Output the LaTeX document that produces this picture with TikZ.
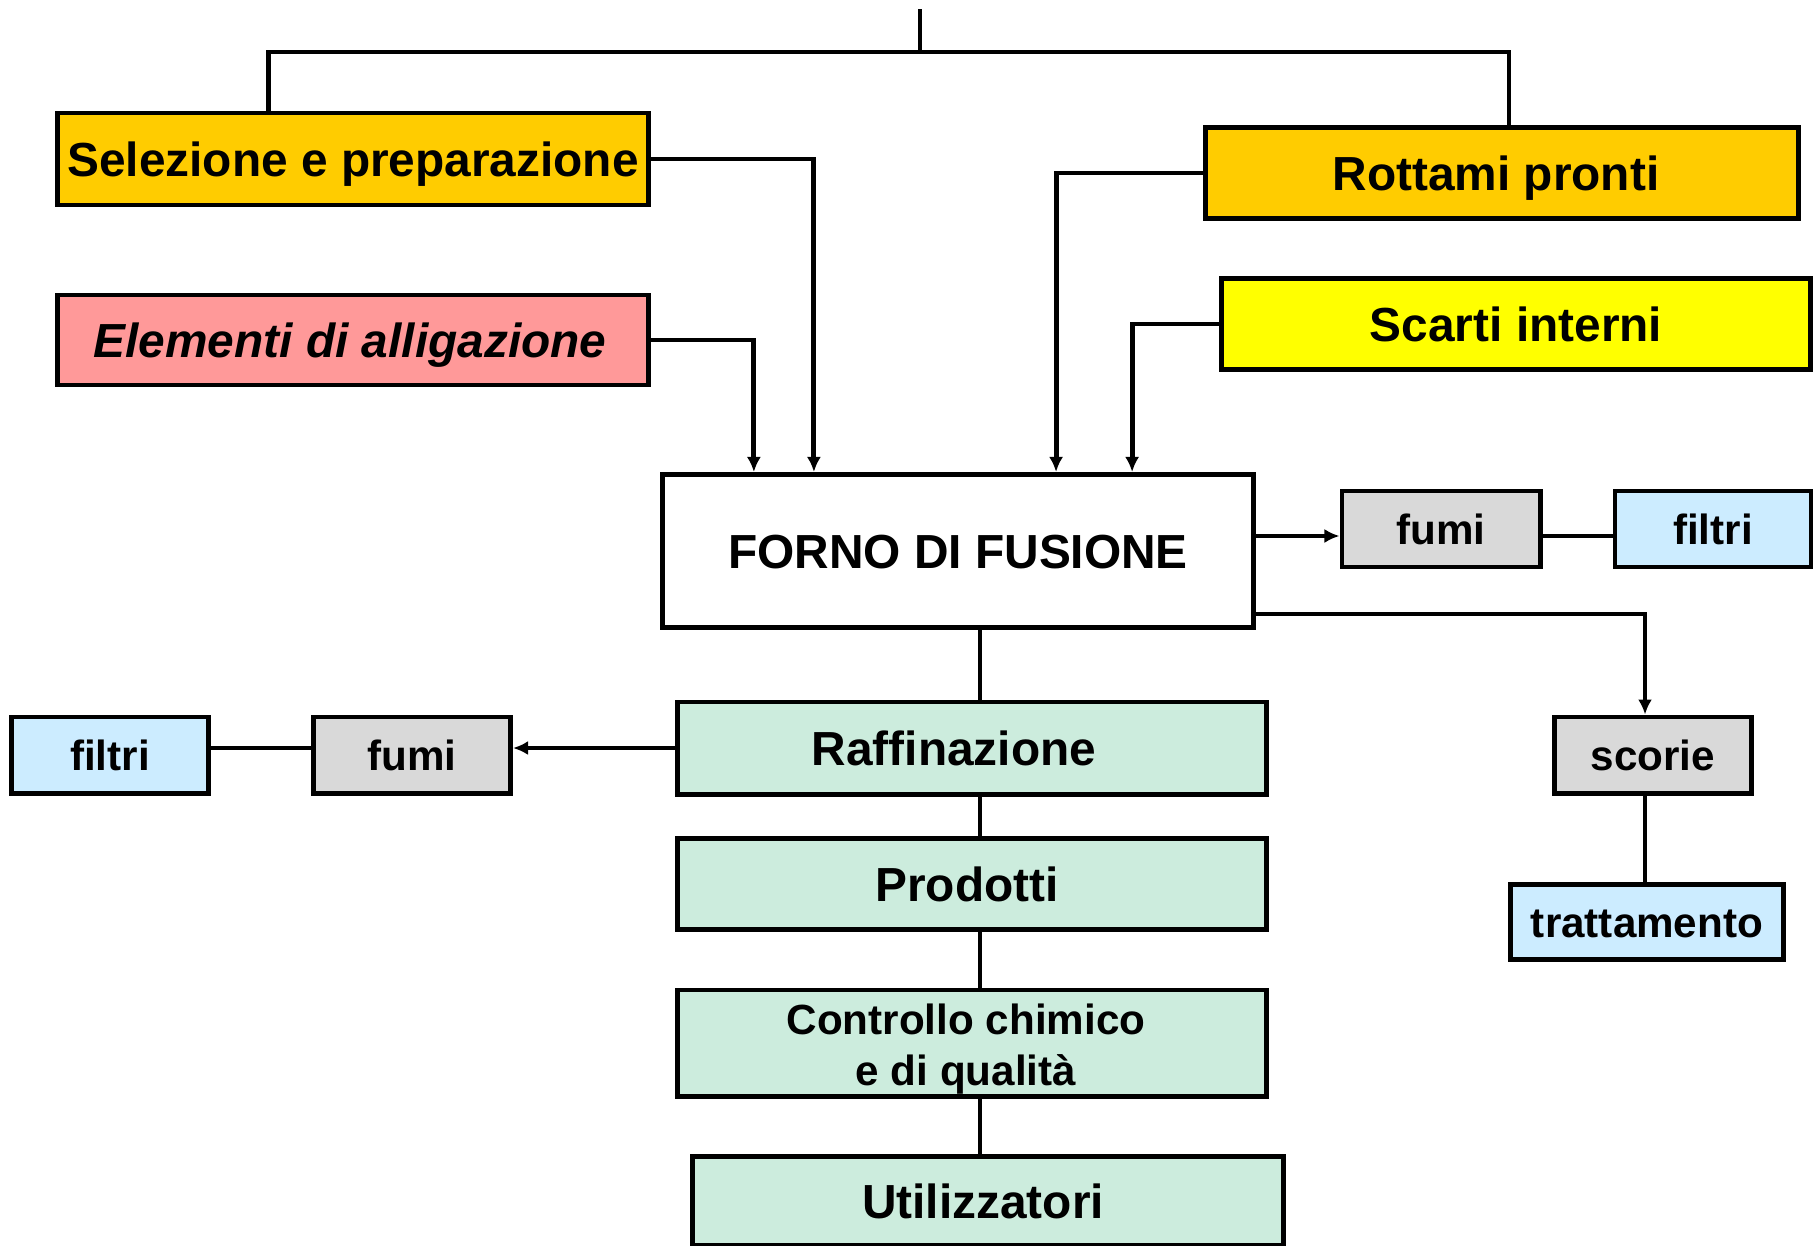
\documentclass[tikz,border=0pt]{standalone}
\usepackage{fontspec}
\setmainfont{Liberation Sans}
\usetikzlibrary{arrows.meta}
\definecolor{orangebox}{HTML}{FFCC00}
\definecolor{pinkbox}{HTML}{FF9999}
\definecolor{yellowbox}{HTML}{FFFF00}
\definecolor{greybox}{HTML}{D9D9D9}
\definecolor{bluebox}{HTML}{CCECFF}
\definecolor{greenbox}{HTML}{CCECDD}
\begin{document}
\begin{tikzpicture}[x=0.01cm,y=-0.01cm,
    box/.style={draw,line width=1.4pt,inner sep=0pt,align=center,
      text height=9.8pt,text depth=0pt,
      font=\fontsize{13.6}{16}\selectfont\bfseries},
    smallbox/.style={box,text height=8.6pt,
      font=\fontsize{12}{14.4}\selectfont\bfseries},
    link/.style={line width=1.4pt},
    flow/.style={line width=1.4pt,-{Latex[length=1.5mm,width=1.4mm]}}]
  \useasboundingbox (0,0) rectangle (1813,1245);
  \draw
    (353,159) node[box,fill=orangebox,minimum width=5.9cm,minimum height=0.92cm] (sel){Selezione e preparazione}
    (1502,173) node[box,fill=orangebox,minimum width=5.92cm,minimum height=0.91cm] (rot){Rottami pronti\hspace*{0.12cm}}
    (353,340) node[box,fill=pinkbox,minimum width=5.9cm,minimum height=0.9cm,font=\fontsize{13.6}{16}\selectfont\bfseries\itshape] (elem){Elementi di alligazione\hspace*{0.06cm}}
    (1516,324) node[box,fill=yellowbox,minimum width=5.89cm,minimum height=0.91cm] (scarti){Scarti interni}
    (958,551) node[box,fill=white,minimum width=5.9cm,minimum height=1.53cm] (forno){FORNO DI FUSIONE}
    (1441,529) node[smallbox,fill=greybox,minimum width=1.98cm,minimum height=0.76cm] (fumir){fumi}
    (1713,529) node[smallbox,fill=bluebox,minimum width=1.96cm,minimum height=0.76cm] (filtrir){filtri}
    (1653,755) node[smallbox,fill=greybox,minimum width=1.97cm,minimum height=0.76cm] (scorie){scorie}
    (1647,922) node[smallbox,fill=bluebox,minimum width=2.72cm,minimum height=0.75cm] (tratt){trattamento}
    (972,748) node[box,fill=greenbox,minimum width=5.89cm,minimum height=0.92cm] (raff){Raffinazione\hspace*{0.36cm}}
    (412,755) node[smallbox,fill=greybox,minimum width=1.97cm,minimum height=0.76cm] (fumil){fumi}
    (110,755) node[smallbox,fill=bluebox,minimum width=1.97cm,minimum height=0.76cm] (filtril){filtri}
    (972,884) node[box,fill=greenbox,minimum width=5.89cm,minimum height=0.91cm] (prod){Prodotti\hspace*{0.1cm}}
    (972,1043) node[smallbox,fill=greenbox,minimum width=5.89cm,minimum height=1.06cm,text height=24pt,text depth=0pt] (ctrl){Controllo chimico\hspace*{0.12cm}\\e di qualità\hspace*{0.12cm}}
    (988,1201) node[box,fill=greenbox,minimum width=5.9cm,minimum height=0.89cm] (util){Utilizzatori\hspace*{0.1cm}};
  \coordinate (top) at (920,9);
  \coordinate (bar) at (920,52);
  \coordinate (spine) at (980,0);
  \coordinate (fo) at ([yshift=0.15cm]forno.east);
  \begin{scope}[link]
    \draw (top) -- (bar);
    \draw ([xshift=-0.84cm]sel.north) |- (bar) -| ([xshift=0.07cm]rot.north);
    \draw (fo -| fumir.east) -- (fo -| filtrir.west);
    \draw (raff.west -| fumil.west) -- (raff.west -| filtril.east);
    \draw ([xshift=-0.08cm]scorie.south) -- ([xshift=-0.08cm]scorie.south |- tratt.north);
    \draw (forno.south -| spine) -- (raff.north -| spine);
    \draw (raff.south -| spine) -- (prod.north -| spine);
    \draw (prod.south -| spine) -- (ctrl.north -| spine);
    \draw (ctrl.south -| spine) -- (util.north -| spine);
  \end{scope}
  \begin{scope}[flow]
    \draw (sel.east) -| ([xshift=-1.44cm]forno.north);
    \draw (elem.east) -| ([xshift=-2.04cm]forno.north);
    \draw (rot.west) -| ([xshift=0.98cm]forno.north);
    \draw (scarti.west) -| ([xshift=1.74cm]forno.north);
    \draw (fo) -- (fo -| fumir.west);
    \draw ([yshift=0.16cm]forno.south east) -| ([xshift=-0.08cm]scorie.north);
    \draw (raff.west) -- (raff.west -| fumil.east);
  \end{scope}
\end{tikzpicture}
\end{document}
